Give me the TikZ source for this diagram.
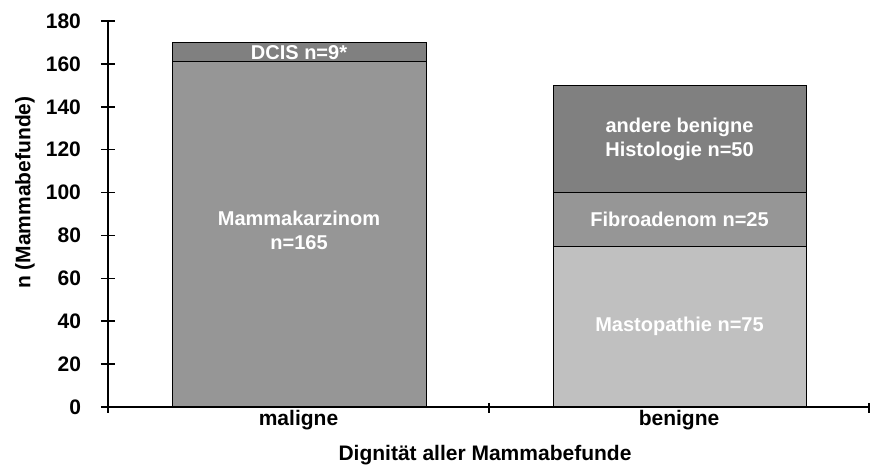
\documentclass[tikz,border=0pt]{standalone}
\usepackage{fontspec}
\setmainfont{Liberation Sans}
\usetikzlibrary{positioning}
\definecolor{barlight}{HTML}{C0C0C0}
\definecolor{barmid}{HTML}{969696}
\definecolor{bardark}{HTML}{808080}
\tikzset{
    axis/.style={line width=0.75pt},
    seg/.style={draw=black, line width=0.5pt},
    inlbl/.style={text=white, align=center, font=\fontsize{10}{12}\selectfont\bfseries},
    ticklbl/.style={font=\fontsize{10.5}{12}\selectfont\bfseries},
    axtitle/.style={font=\fontsize{10.5}{12}\selectfont\bfseries},
}

\begin{document}
\begin{tikzpicture}[x=0.5pt, y=1.072pt]
\useasboundingbox (-108,-28) rectangle (764,189.83);

% bars
\filldraw[seg, fill=barmid]   (64,0)   rectangle (318,161);
\filldraw[seg, fill=bardark]  (64,161) rectangle (318,170);
\filldraw[seg, fill=barlight] (445,0)  rectangle (698,75);
\filldraw[seg, fill=barmid]   (445,75) rectangle (698,100);
\filldraw[seg, fill=bardark]  (445,100) rectangle (698,150);

\node[inlbl] (dcis) at (191,165.5) {DCIS n=9*};
\node[inlbl] (karz) at (191,82.5) {Mammakarzinom\\n=165};
\node[inlbl] (andere) at (571.5,125) {andere benigne\\Histologie n=50};
\node[inlbl] (fibro) at (571.5,87.5) {Fibroadenom n=25};
\node[inlbl] (masto) at (571.5,37.5) {Mastopathie n=75};

% axes
\draw[axis] (0,0) -- (0,180);
\draw[axis] (0,0) -- (761,0);
\foreach \v in {0,20,...,180} {
    \draw[axis] (-7,\v) -- (7,\v);
    \node[ticklbl, anchor=east] (t\v) at (-20,\v) {\v};
}
\foreach \p in {0,381,761}
    \draw[axis] (\p,1.9) -- (\p,-2.8);

\node[ticklbl] (mal) at (190.5,-6.1) {maligne};
\node[ticklbl] (ben) at (571,-6.1) {benigne};
\node[axtitle] (xtitle) at (377,-22.4) {Dignität aller Mammabefunde};
\node[axtitle, rotate=90] (ytitle) at (-83,100) {n (Mammabefunde)};

\end{tikzpicture}
\end{document}
